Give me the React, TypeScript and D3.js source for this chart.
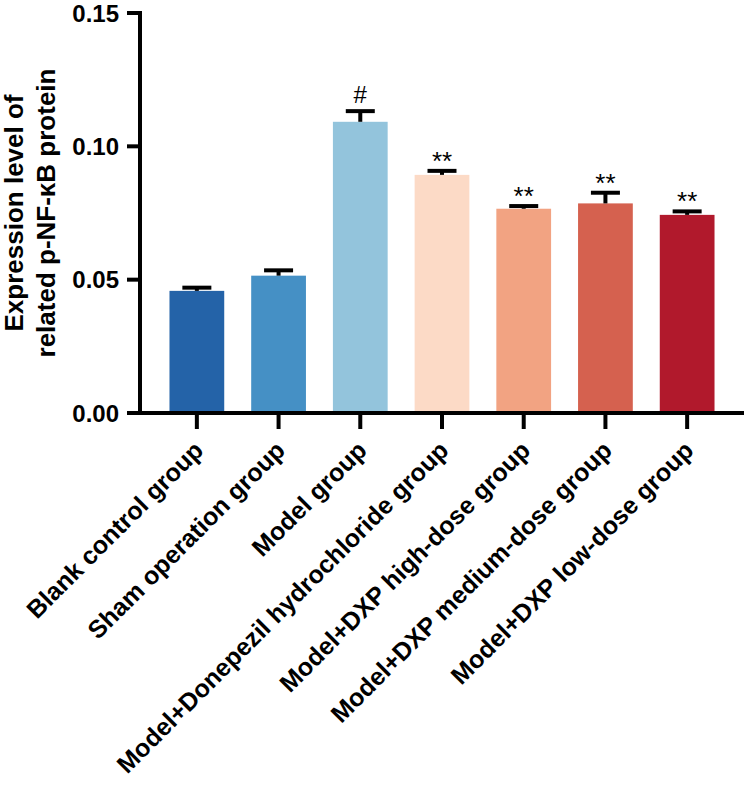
import * as d3 from "d3";
import React from 'react'

const groups = [
  "Blank control group",
  "Sham operation group",
  "Model group",
  "Model+Donepezil hydrochloride group",
  "Model+DXP high-dose group",
  "Model+DXP medium-dose group",
  "Model+DXP low-dose group",
]
const means = [0.0458, 0.0515, 0.1092, 0.0893, 0.0766, 0.0786, 0.0743]
const errors = [0.0012, 0.0020, 0.0040, 0.0015, 0.0010, 0.0040, 0.0013]
const marks = ["", "", "#", "**", "**", "**", "**"]
const colors = ["#2463a8", "#4590c5", "#93c4dc", "#fcdac6", "#f2a382", "#d5614f", "#b1192c"]
const yTicks = [0, 0.05, 0.1, 0.15]

const width = 750
const height = 786
const axisX = 140
const axisRight = 744
const yTop = 13
const yBottom = 413
const font = "'Liberation Sans', Arial, Helvetica, sans-serif"

export default function App() {
  const x = d3.scaleBand<string>()
    .domain(groups)
    .range([axisX + 16, axisRight - 16])
    .paddingInner(0.33)
    .paddingOuter(0.165)
  const y = d3.scaleLinear()
    .domain([0, 0.15])
    .range([yBottom, yTop])

  return (
    <svg width={width} height={height}
      style={{ position: 'absolute', left: 0, top: 0, background: '#fff' }}
      fontFamily={font}>
      {/* bars */}
      {groups.map((g, i) => (
        <rect key={g} x={x(g)} y={y(means[i])} width={x.bandwidth()}
          height={y(0) - y(means[i])} fill={colors[i]} />
      ))}
      {/* error bars (upper whisker) */}
      {groups.map((g, i) => {
        const cx = (x(g) as number) + x.bandwidth() / 2
        const top = y(means[i] + errors[i])
        return (
          <g key={'e' + g} stroke="#000" strokeWidth={4}>
            <line x1={cx} x2={cx} y1={y(means[i])} y2={top} />
            <line x1={cx - 14.5} x2={cx + 14.5} y1={top} y2={top} />
          </g>
        )
      })}
      {/* significance marks */}
      {groups.map((g, i) => {
        const cx = (x(g) as number) + x.bandwidth() / 2
        const top = y(means[i] + errors[i])
        return marks[i] === "#" ? (
          <text key={'m' + g} x={cx} y={top - 8} textAnchor="middle"
            fontSize={24}>#</text>
        ) : (
          <text key={'m' + g} x={cx} y={top - 1} textAnchor="middle"
            fontSize={26}>{marks[i]}</text>
        )
      })}
      {/* y axis */}
      <line x1={axisX} x2={axisX} y1={yTop - 2} y2={yBottom + 2} stroke="#000" strokeWidth={4} />
      {yTicks.map(t => (
        <g key={t}>
          <line x1={axisX - 13} x2={axisX} y1={y(t)} y2={y(t)} stroke="#000" strokeWidth={4} />
          <text x={axisX - 21} y={y(t)} dy="0.36em" textAnchor="end"
            fontSize={24} fontWeight="bold">{d3.format(".2f")(t)}</text>
        </g>
      ))}
      {/* x axis */}
      <line x1={axisX - 2} x2={axisRight} y1={yBottom} y2={yBottom} stroke="#000" strokeWidth={4} />
      {groups.map(g => {
        const cx = (x(g) as number) + x.bandwidth() / 2
        return (
          <g key={'t' + g}>
            <line x1={cx} x2={cx} y1={yBottom} y2={yBottom + 16} stroke="#000" strokeWidth={4} />
            <text transform={`translate(${cx + 8},${yBottom + 39}) rotate(-45)`}
              textAnchor="end" fontSize={25} fontWeight="bold">{g}</text>
          </g>
        )
      })}
      {/* y title */}
      <text transform={`translate(23,${(yTop + yBottom) / 2}) rotate(-90)`}
        textAnchor="middle" fontSize={26} fontWeight="bold">Expression level of</text>
      <text transform={`translate(55,${(yTop + yBottom) / 2}) rotate(-90)`}
        textAnchor="middle" fontSize={26} fontWeight="bold">related p-NF-κB protein</text>
    </svg>
  )
}
